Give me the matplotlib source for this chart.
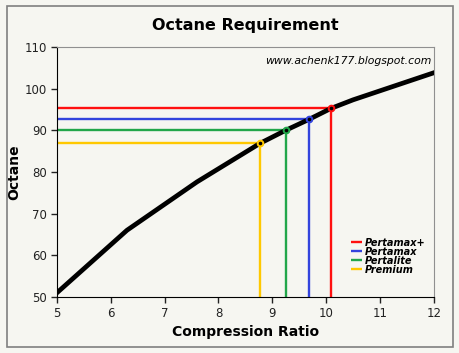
import matplotlib.pyplot as plt
from matplotlib.patches import Rectangle

# Curve data (compression ratio vs octane)
ratio = [5.0, 6.3, 7.6, 8.77, 9.25, 9.68, 10.09, 10.5, 12.0]
octane = [51.0, 66.0, 77.6, 86.85, 90.0, 92.6, 95.25, 97.3, 103.8]

# Fuel grades
fuels = ["Pertamax+", "Pertamax", "Pertalite", "Premium"]
fuel_ratio = [10.09, 9.68, 9.25, 8.77]
fuel_octane = [95.25, 92.6, 90.0, 86.85]
fuel_colors = ["#ff1010", "#3344dd", "#22a64a", "#ffc800"]

bg = "#f6f6f1"

fig = plt.figure(figsize=(4.6, 3.53), dpi=100, facecolor=bg)
ax = fig.add_axes([0.124, 0.159, 0.819, 0.708])
ax.set_facecolor(bg)

# Outer chart border
fig.patches.append(Rectangle((7 / 460, 6 / 353), 446 / 460, 341 / 353,
                             transform=fig.transFigure, fill=False,
                             edgecolor="#808080", linewidth=1.2))

for name, xr, yo, c in zip(fuels, fuel_ratio, fuel_octane, fuel_colors):
    ax.plot([5, xr], [yo, yo], color=c, lw=1.7, solid_capstyle="butt")
    ax.plot([xr, xr], [50, yo], color=c, lw=1.7, solid_capstyle="butt", label=name)

ax.plot(ratio, octane, color="black", lw=3.4, zorder=3)

for xr, yo, c in zip(fuel_ratio, fuel_octane, fuel_colors):
    ax.plot(xr, yo, "o", ms=4.5, mfc=c, mec=c, zorder=4)
    ax.plot(xr, yo, "o", ms=1.6, mfc="black", mec="black", zorder=5)

ax.set_xlim(5, 12)
ax.set_ylim(50, 110)
ax.set_xticks(range(5, 13))
ax.set_yticks(range(50, 111, 10))
ax.tick_params(labelsize=8.5, colors="#222222", length=4, width=1, pad=3)

ax.spines["left"].set_color("black")
ax.spines["bottom"].set_color("black")
ax.spines["top"].set_color("#909090")
ax.spines["right"].set_color("#909090")

ax.set_title("Octane Requirement", fontsize=11.5, fontweight="bold", pad=12)
ax.set_xlabel("Compression Ratio", fontsize=10, fontweight="bold", labelpad=4)
ax.set_ylabel("Octane", fontsize=10, fontweight="bold")
ax.yaxis.set_label_coords(-0.095, 0.5)

ax.text(0.995, 0.965, "www.achenk177.blogspot.com", transform=ax.transAxes,
        ha="right", va="top", fontsize=7.8, style="italic")

ax.legend(loc="upper left", bbox_to_anchor=(0.775, 0.245), frameon=False,
          handlelength=1.1, handletextpad=0.3, labelspacing=-0.1,
          borderpad=0.2, borderaxespad=0,
          prop={"size": 7, "weight": "bold", "style": "italic"})

plt.savefig("out.png", dpi=100, facecolor=bg)
plt.close()
